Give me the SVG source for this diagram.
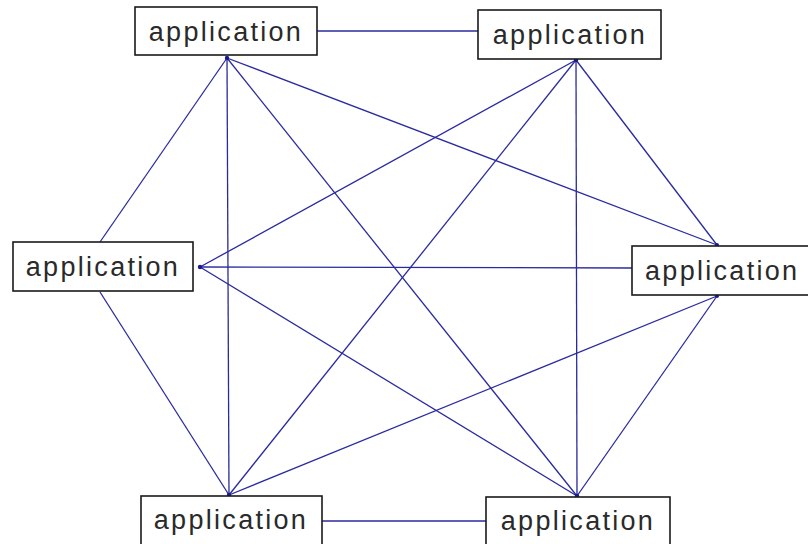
<svg xmlns="http://www.w3.org/2000/svg" width="808" height="544" viewBox="0 0 808 544">
<defs>
<style>
.box{fill:#fff;stroke:#1a1a1a;stroke-width:1.6}
.lbl{font-family:"Liberation Sans",Arial,sans-serif;font-size:27px;fill:#2a2a2a;letter-spacing:2.3px}
.c{stroke:#2a2aa0;stroke-width:1.3;fill:none}
.d{fill:#1a1a90}
</style>
</defs>
<rect width="808" height="544" fill="#fff"/>
<g id="connectors">
<line class="c" x1="317" y1="31" x2="478" y2="31"/>
<line class="c" x1="322" y1="521" x2="486" y2="521"/>
<line class="c" x1="200" y1="267" x2="632" y2="268"/>
<line class="c" x1="227" y1="58" x2="100" y2="242"/>
<line class="c" x1="227" y1="58" x2="229" y2="495"/>
<line class="c" x1="227" y1="58" x2="577" y2="496"/>
<line class="c" x1="227" y1="58" x2="717" y2="245"/>
<line class="c" x1="576" y1="60" x2="200" y2="267"/>
<line class="c" x1="576" y1="60" x2="229" y2="495"/>
<line class="c" x1="576" y1="60" x2="577" y2="496"/>
<line class="c" x1="576" y1="60" x2="717" y2="245"/>
<line class="c" x1="200" y1="267" x2="577" y2="496"/>
<line class="c" x1="100" y1="292" x2="229" y2="495"/>
<line class="c" x1="229" y1="495" x2="717" y2="296"/>
<line class="c" x1="577" y1="496" x2="717" y2="296"/>
<circle class="d" cx="227" cy="58" r="2.2"/>
<circle class="d" cx="576" cy="60" r="2.2"/>
<circle class="d" cx="200" cy="267" r="2.2"/>
<circle class="d" cx="717" cy="245" r="2"/>
<circle class="d" cx="717" cy="296" r="2"/>
<circle class="d" cx="229" cy="495" r="2.2"/>
<circle class="d" cx="577" cy="496" r="2.2"/>
</g>
<g id="node-top-left">
<rect class="box" x="135" y="7" width="182" height="48"/>
<text class="lbl" x="226" y="41" text-anchor="middle">application</text>
</g>
<g id="node-top-right">
<rect class="box" x="478" y="10" width="183" height="49"/>
<text class="lbl" x="570" y="44" text-anchor="middle">application</text>
</g>
<g id="node-left">
<rect class="box" x="13" y="242" width="180" height="49"/>
<text class="lbl" x="103" y="276" text-anchor="middle">application</text>
</g>
<g id="node-right">
<rect class="box" x="632" y="246" width="182" height="49"/>
<text class="lbl" x="645" y="280">application</text>
</g>
<g id="node-bottom-left">
<rect class="box" x="141" y="496" width="181" height="52"/>
<text class="lbl" x="231" y="529" text-anchor="middle">application</text>
</g>
<g id="node-bottom-right">
<rect class="box" x="486" y="497" width="184" height="52"/>
<text class="lbl" x="578" y="530" text-anchor="middle">application</text>
</g>
</svg>
